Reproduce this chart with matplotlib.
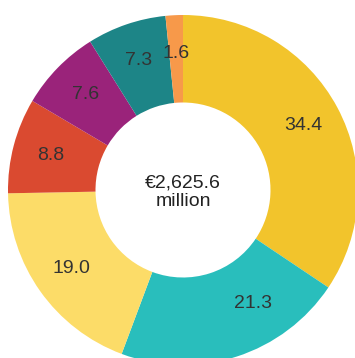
import numpy as np
import matplotlib.pyplot as plt

# Shares of total (%), clockwise from 12 o'clock
values = [34.4, 21.3, 19.0, 8.8, 7.6, 7.3, 1.6]
labels = ["34.4", "21.3", "19.0", "8.8", "7.6", "7.3", "1.6"]
colors = ["#F2C42C", "#29BEBC", "#FCDC68", "#DA4A30", "#9A237A", "#1D8587", "#F7994A"]
total_text = "€2,625.6\nmillion"

plt.rcParams['font.family'] = ['Liberation Sans', 'DejaVu Sans']

fig = plt.figure(figsize=(3.55, 3.58), dpi=100)
ax = fig.add_axes([0, 0, 1, 1])

wedges, texts = ax.pie(values, colors=colors, startangle=90, counterclock=False,
                       radius=1.0, labels=labels, labeldistance=0.78,
                       wedgeprops=dict(width=0.5, linewidth=0),
                       textprops=dict(fontsize=14, color="#333333",
                                      ha="center", va="center"))

# the bottom slice is cut by the frame, so its label sits higher up in the visible part
w = wedges[1]
ang = np.deg2rad((w.theta1 + w.theta2) / 2 + 14)
texts[1].set_position((0.76 * np.cos(ang), 0.76 * np.sin(ang)))

ax.text(0, -0.014, total_text, ha="center", va="center", fontsize=14,
        color="#222222", linespacing=1.1)

# place the donut as in the original (partly cut at right and bottom)
ax.set_xlim(-183 / 175, (355 - 183) / 175)
ax.set_ylim((190 - 358) / 175, 190 / 175)
ax.set_aspect("auto")
ax.axis("off")

fig.savefig("out.png", dpi=100)
